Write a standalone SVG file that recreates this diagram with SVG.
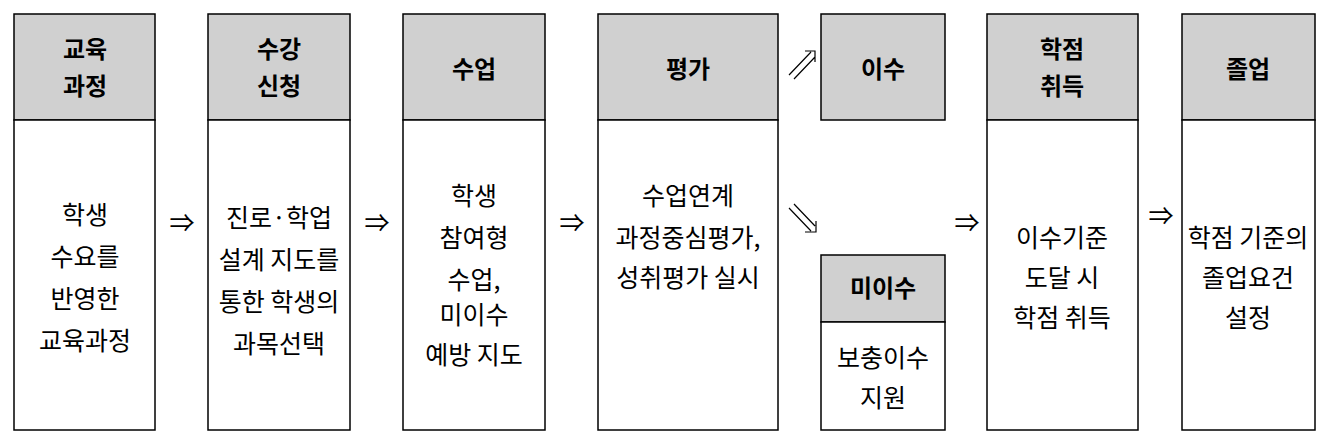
<svg xmlns="http://www.w3.org/2000/svg" width="1328" height="436" viewBox="0 0 1328 436">
<style>
.h{fill:#d0d0d0;stroke:#000;stroke-width:1.5}
.b{fill:#fff;stroke:#000;stroke-width:1.5}
text{font-family:"Noto Sans CJK KR","Noto Sans",sans-serif;font-size:25px;text-anchor:middle;fill:#000}
.t{font-weight:bold;font-size:24px}
.c{stroke:#000;stroke-width:1.2;fill:none}
</style>
<rect width="1328" height="436" fill="#fff"/>
<g id="n1"><rect class="h" x="14" y="14" width="141" height="106"/><rect class="b" x="14" y="120" width="141" height="310"/>
<text class="t" x="85" y="58">교육</text><text class="t" x="85" y="95">과정</text>
<text x="85" y="224">학생</text><text x="85" y="266">수요를</text><text x="85" y="308">반영한</text><text x="85" y="350">교육과정</text></g>
<g id="n2"><rect class="h" x="208" y="14" width="142" height="106"/><rect class="b" x="208" y="120" width="142" height="310"/>
<text class="t" x="279" y="58">수강</text><text class="t" x="279" y="95">신청</text>
<text x="279" y="227">진로·학업</text><text x="279" y="269">설계 지도를</text><text x="279" y="311">통한 학생의</text><text x="279" y="353">과목선택</text></g>
<g id="n3"><rect class="h" x="403" y="14" width="142" height="106"/><rect class="b" x="403" y="120" width="142" height="310"/>
<text class="t" x="474" y="78">수업</text>
<text x="474" y="205">학생</text><text x="474" y="247">참여형</text><text x="474" y="289">수업,</text><text x="474" y="324">미이수</text><text x="474" y="364">예방 지도</text></g>
<g id="n4"><rect class="h" x="598" y="14" width="180" height="106"/><rect class="b" x="598" y="120" width="180" height="310"/>
<text class="t" x="688" y="78">평가</text>
<text x="688" y="205">수업연계</text><text x="688" y="247">과정중심평가,</text><text x="688" y="287">성취평가 실시</text></g>
<g id="n5"><rect class="h" x="821" y="14" width="124" height="106"/><text class="t" x="883" y="78">이수</text></g>
<g id="n6"><rect class="h" x="821" y="255" width="124" height="67"/><rect class="b" x="821" y="322" width="124" height="108"/>
<text class="t" x="883" y="297">미이수</text><text x="883" y="367">보충이수</text><text x="883" y="407">지원</text></g>
<g id="n7"><rect class="h" x="987" y="14" width="151" height="106"/><rect class="b" x="987" y="120" width="151" height="310"/>
<text class="t" x="1062" y="58">학점</text><text class="t" x="1062" y="95">취득</text>
<text x="1062" y="247">이수기준</text><text x="1062" y="287">도달 시</text><text x="1062" y="327">학점 취득</text></g>
<g id="n8"><rect class="h" x="1182" y="14" width="133" height="106"/><rect class="b" x="1182" y="120" width="133" height="310"/>
<text class="t" x="1248" y="78">졸업</text>
<text x="1248" y="247">학점 기준의</text><text x="1248" y="287">졸업요건</text><text x="1248" y="327">설정</text></g>
<g id="connectors">
<text x="182" y="232">⇒</text><text x="377" y="232">⇒</text><text x="572" y="232">⇒</text>
<text x="967" y="232">⇒</text><text x="1161" y="225">⇒</text>
<path class="c" d="M789 75 L811 52 M794 79 L815 57 M805 51 L815 51 L815 62"/>
<path class="c" d="M789 208 L811 231 M794 204 L815 226 M805 232 L816 232 L816 221"/>
</g>
</svg>
